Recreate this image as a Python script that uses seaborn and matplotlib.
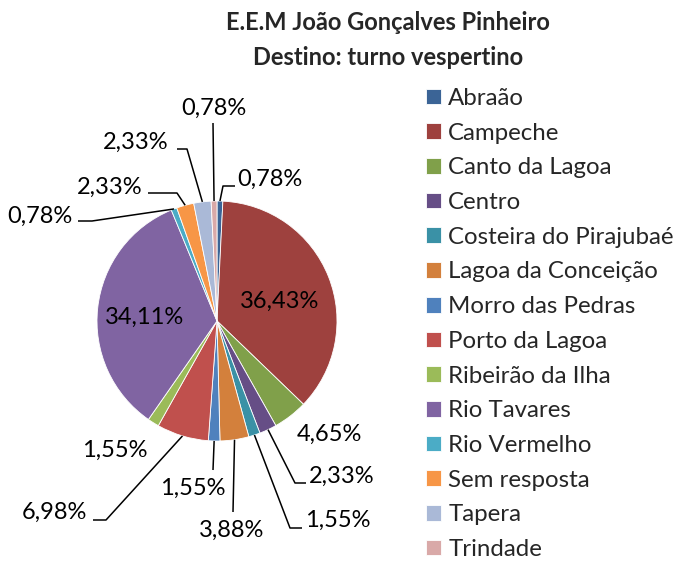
import matplotlib
matplotlib.use("Agg")
import matplotlib.pyplot as plt
import seaborn as sns
import numpy as np

# dados do grafico (percentuais)
bairros = ["Abraão", "Campeche", "Canto da Lagoa", "Centro", "Costeira do Pirajubaé",
           "Lagoa da Conceição", "Morro das Pedras", "Porto da Lagoa", "Ribeirão da Ilha",
           "Rio Tavares", "Rio Vermelho", "Sem resposta", "Tapera", "Trindade"]
percentuais = [0.78, 36.43, 4.65, 2.33, 1.55, 3.88, 1.55, 6.98, 1.55, 34.11, 0.78, 2.33, 2.33, 0.78]
cores = ["#3B6496", "#9E413E", "#80A04A", "#664E86", "#3A91A6", "#D3803C", "#4F81BD",
         "#C0504D", "#9BBB59", "#8064A2", "#4BACC6", "#F79646", "#AAB9D7", "#D9A9A8"]
titulo = "E.E.M João Gonçalves Pinheiro"
subtitulo = "Destino: turno vespertino"

W, H = 679, 564

# posicao dos rotulos em pixels (x centro, linha de base) e cotovelos das linhas guia
rotulos_pos = [
    (270, 186, [(223, 186), (235, 186)]),
    (280, 308, None),
    (329, 441, None),
    (342, 483, [(295, 483), (306, 483)]),
    (338, 527, [(290, 528), (302, 528)]),
    (232, 537, [(233, 512)]),
    (193, 495, [(213, 470)]),
    (54, 519, [(106, 520), (93, 520)]),
    (115, 457, None),
    (145, 324, None),
    (40, 223, [(92, 221), (78, 221)]),
    (110, 194, [(177, 193), (148, 193)]),
    (136, 149, [(187, 149), (177, 149)]),
    (214, 115, [(213, 123)]),
]

sns.set_style("white")
plt.rcParams['font.family'] = ['Lato', 'DejaVu Sans']

fig = plt.figure(figsize=(W / 100, H / 100), dpi=100)
ax = fig.add_axes([0, 0, 1, 1])

centro = (217, H - 321)
raio = 120
wedges, _ = ax.pie(percentuais, colors=sns.color_palette(cores), startangle=90,
                   counterclock=False, radius=raio, center=centro,
                   wedgeprops=dict(edgecolor='white', linewidth=0.6))
ax.set_xlim(0, W)
ax.set_ylim(0, H)
ax.set_aspect('equal')
ax.axis('off')

# rotulos de dados
for w, p, (tx, ty, guia) in zip(wedges, percentuais, rotulos_pos):
    texto = f"{p:.2f}%".replace('.', ',')
    ax.text(tx, H - ty, texto, ha='center', va='baseline', fontsize=17, color='black')
    if guia:
        ang = np.deg2rad((w.theta1 + w.theta2) / 2)
        x0 = centro[0] + raio * np.cos(ang)
        y0 = centro[1] + raio * np.sin(ang)
        xs = [x0] + [g[0] for g in guia]
        ys = [y0] + [H - g[1] for g in guia]
        ax.plot(xs, ys, color='black', lw=1.1, solid_capstyle='butt')

# legenda
ax.legend(wedges, bairros, loc='upper left', bbox_to_anchor=(426 / W, (H - 88) / H),
          frameon=False, fontsize=17.3, handlelength=0.63, handleheight=0.63,
          handletextpad=0.3, labelspacing=0.57, borderpad=0, borderaxespad=0)

# titulo
fig.text(388 / W, 1 - 30 / H, titulo, ha='center', va='baseline', fontsize=17, fontweight='bold')
fig.text(388 / W, 1 - 65 / H, subtitulo, ha='center', va='baseline', fontsize=17, fontweight='bold')

plt.savefig("out.png", dpi=100)
